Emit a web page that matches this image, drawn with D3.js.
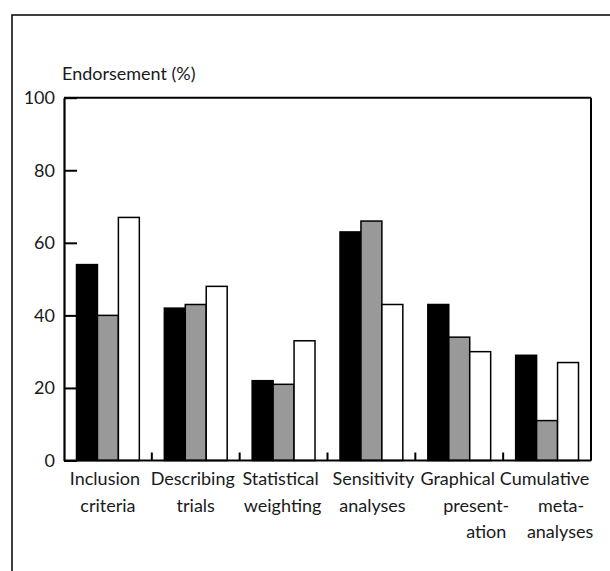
<!DOCTYPE html>
<html>
<head>
<meta charset="utf-8">
<script src="https://cdn.jsdelivr.net/npm/d3@7"></script>
<style>
  html, body { margin: 0; padding: 0; background: #fff; }
  svg { display: block; }
  text { font-family: Lato, "Open Sans", sans-serif; fill: #1a1a1a; }
</style>
</head>
<body>
<svg id="chart" width="610" height="571"></svg>
<script>
// ---- data ----
const categories = ["Inclusion criteria", "Describing trials", "Statistical weighting",
                    "Sensitivity analyses", "Graphical presentation", "Cumulative meta-analyses"];
const labelLines = [["Inclusion", "criteria"], ["Describing", "trials"], ["Statistical", "weighting"],
                    ["Sensitivity", "analyses"], ["Graphical", "present-", "ation"], ["Cumulative", "meta-", "analyses"]];
const seriesNames = ["Series A", "Series B", "Series C"];
const seriesA = [54, 42, 22, 63, 43, 29];
const seriesB = [40, 43, 21, 66, 34, 11];
const seriesC = [67, 48, 33, 43, 30, 27];
const yTicks = [0, 20, 40, 60, 80, 100];
const yTitle = "Endorsement (%)";

// ---- presentation ----
const colors = ["#000000", "#999999", "#ffffff"];
const lineNudge = [[-3, 0], [-3, 0], [-3, -1], [2, 1], [-1.5, 17, 27], [-2.5, 14, 13]];

const svg = d3.select("#chart");
const pLeft = 64, pRight = 591, pTop = 97.7, pBottom = 460.5;

// outer frame
svg.append("rect").attr("x", 12).attr("y", 15).attr("width", 700).attr("height", 700)
  .attr("fill", "none").attr("stroke", "#111").attr("stroke-width", 1.6);

const x0 = d3.scaleBand().domain(categories).range([pLeft, pRight]).paddingInner(0).paddingOuter(0);
const bw = x0.bandwidth();
const groupPad = 12.5;
const x1 = d3.scaleBand().domain(seriesNames).range([groupPad, bw - groupPad]).padding(0);
const y = d3.scaleLinear().domain([0, 100]).range([pBottom, pTop]);

const series = [seriesA, seriesB, seriesC];

// bars
const g = svg.append("g");
categories.forEach((c, i) => {
  series.forEach((s, j) => {
    g.append("rect")
      .attr("x", x0(c) + x1(seriesNames[j]))
      .attr("y", y(s[i]))
      .attr("width", x1.bandwidth())
      .attr("height", y(0) - y(s[i]))
      .attr("fill", colors[j])
      .attr("stroke", "#000")
      .attr("stroke-width", 1.5);
  });
});

// plot box top & right
svg.append("line").attr("x1", pLeft).attr("x2", pRight).attr("y1", pTop).attr("y2", pTop)
  .attr("stroke", "#000").attr("stroke-width", 2);
svg.append("line").attr("x1", pRight).attr("x2", pRight).attr("y1", pTop).attr("y2", pBottom)
  .attr("stroke", "#000").attr("stroke-width", 2);

// category separator ticks
categories.forEach(c => {
  const xx = x0(c) + bw;
  svg.append("line").attr("x1", xx).attr("x2", xx).attr("y1", pBottom).attr("y2", pBottom - 8)
    .attr("stroke", "#000").attr("stroke-width", 2);
});

// baseline
svg.append("line").attr("x1", pLeft).attr("x2", pRight).attr("y1", pBottom).attr("y2", pBottom)
  .attr("stroke", "#000").attr("stroke-width", 2.2);

// y axis
const yAxis = d3.axisLeft(y).tickValues(yTicks).tickSizeInner(-13).tickSizeOuter(0).tickPadding(9)
  .tickFormat(d3.format("d"));
const ya = svg.append("g").attr("transform", `translate(${pLeft},0)`).call(yAxis);
ya.select(".domain").attr("stroke", "#000").attr("stroke-width", 2.2);
ya.selectAll(".tick line").attr("stroke", "#000").attr("stroke-width", 2);
ya.selectAll(".tick text").attr("font-size", 18).attr("fill", "#1a1a1a")
  .attr("font-family", "Lato, 'Open Sans', sans-serif");

// y title
svg.append("text").attr("x", 62).attr("y", 80).attr("font-size", 18).text(yTitle);

// category labels
categories.forEach((c, i) => {
  const cx = x0(c) + bw / 2;
  const t = svg.append("text").attr("text-anchor", "middle").attr("font-size", 18);
  labelLines[i].forEach((ln, k) => {
    t.append("tspan").attr("x", cx + lineNudge[i][k]).attr("y", 485 + k * 26.5).text(ln);
  });
});
</script>
</body>
</html>
